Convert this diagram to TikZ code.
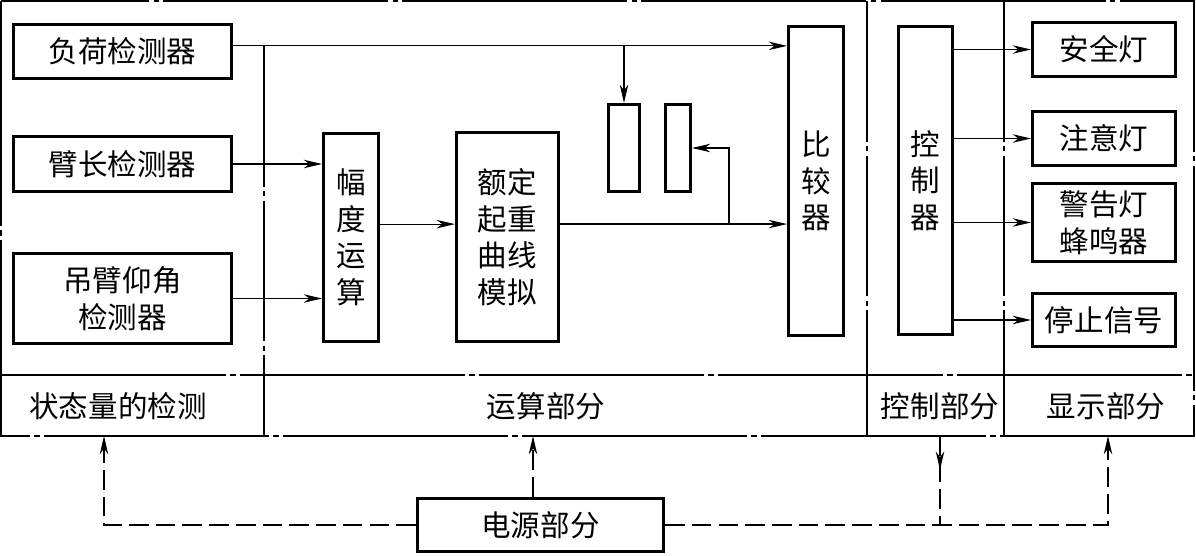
\documentclass[tikz,border=0pt]{standalone}
\usepackage{fontspec}
\setmainfont{Noto Sans CJK SC}
\usetikzlibrary{arrows.meta,decorations.markings}

\tikzset{
  blk/.style={draw, line width=2.2pt, align=center, inner sep=0pt},
  frameln/.style={line width=1.2pt, dash pattern=on 160pt off 3pt on 4pt off 3pt},
  divln/.style={line width=0.8pt, dash pattern=on 100pt off 3pt on 4pt off 3pt},
  tip/.style={-{Stealth[length=13pt,width=6pt,inset=4pt]}},
  sig/.style={line width=0.8pt, tip},
  pwr/.style={line width=0.9pt, dash pattern=on 14pt off 5pt},
  pwrarr/.style={pwr, tip},
  downmark/.style={postaction={decorate}, decoration={markings,
    mark=at position 0.38 with {\arrow{Stealth[length=13pt,width=6pt,inset=4pt]}}}},
}

\begin{document}
\begin{tikzpicture}[x=0.025cm, y=-0.025cm, font=\fontsize{21}{26}\selectfont]
    \useasboundingbox (0,0) rectangle (1196,556);

    % frame and dividers
    \draw[frameln] (1,1) rectangle (1194,436);
    \draw[frameln] (1,375) -- (1194,375);
    \draw[divln] (264,46) -- (264,375);
    \draw[line width=0.8pt] (264,375) -- (264,436);
    \draw[divln] (867,1) -- (867,375);
    \draw[line width=0.8pt] (867,375) -- (867,436);
    \draw[divln] (1004,1) -- (1004,375);
    \draw[line width=0.8pt] (1004,375) -- (1004,436);

    \node (lbldet) at (118,406) {状态量的检测};
    \node (lblcalc) at (546,406) {运算部分};
    \node (lblctrl) at (940,406) {控制部分};
    \node (lbldisp) at (1106,406) {显示部分};

    % detectors
    \node[blk, minimum width=5.45cm, minimum height=1.35cm] (load) at (122.5,51.5) {负荷检测器};
    \node[blk, minimum width=5.45cm, minimum height=1.37cm] (arm) at (122.5,164) {臂长检测器};
    \node[blk, minimum width=5.45cm, minimum height=2.25cm] (angle) at (122.5,298.5) {吊臂仰角\\检测器};

    % calculation
    \node[blk, minimum width=1.37cm, minimum height=5.2cm] (amp) at (351,237.5) {幅\\度\\运\\算};
    \node[blk, minimum width=2.55cm, minimum height=5.22cm] (curve) at (507.5,237) {额定\\起重\\曲线\\模拟};
    \node[blk, minimum width=0.78cm, minimum height=2.17cm] (bara) at (624,148) {};
    \node[blk, minimum width=0.62cm, minimum height=2.17cm] (barb) at (678,148) {};
    \node[blk, minimum width=1.37cm, minimum height=7.72cm] (cmp) at (816,181) {比\\较\\器};

    % control and display
    \node[blk, minimum width=1.35cm, minimum height=7.7cm] (ctrl) at (925.5,180.5) {控\\制\\器};
    \node[blk, minimum width=3.57cm, minimum height=1.35cm] (safe) at (1104,49.5) {安全灯};
    \node[blk, minimum width=3.57cm, minimum height=1.35cm] (note) at (1104,138.5) {注意灯};
    \node[blk, minimum width=3.57cm, minimum height=1.95cm] (warn) at (1104,222.5) {警告灯\\蜂鸣器};
    \node[blk, minimum width=3.57cm, minimum height=1.33cm] (stop) at (1104,320) {停止信号};

    \node[blk, minimum width=6.15cm, minimum height=1.33cm] (power) at (540.5,525) {电源部分};

    % signals
    \coordinate (loadout) at ([yshift=4pt]load.east);
    \draw[sig] (loadout) -- (loadout -| cmp.west);
    \coordinate (tap) at (loadout -| bara.north);
    \draw[sig] (tap) -- (bara.north);
    \draw[sig] (arm.east) -- (arm.east -| amp.west);
    \draw[sig] (angle.east) -- (angle.east -| amp.west);
    \coordinate (ampout) at ([yshift=9.5pt]amp.east);
    \draw[sig] (ampout) -- (ampout -| curve.west);
    \coordinate (curveout) at ([yshift=9.2pt]curve.east);
    \draw[sig] (curveout) -- (curveout -| cmp.west);
    \coordinate (fork) at (curveout -| 729,0);
    \draw[sig] (fork) |- (barb.east);
    \foreach \lamp in {safe,note,warn,stop}
        \draw[sig] (ctrl.east |- \lamp.west) -- (\lamp.west);

    % power supply
    \coordinate (pdet) at (104,436);
    \coordinate (pcalc) at (533,436);
    \coordinate (pctrl) at (940,436);
    \coordinate (pdisp) at (1108,436);
    \draw[pwrarr] (power.west) -| (pdet);
    \draw[pwrarr] (power.north -| pcalc) -- (pcalc);
    \draw[pwrarr] (power.east) -| (pdisp);
    \coordinate (pjoin) at (power.east -| pctrl);
    \draw[pwr, downmark] (pctrl) -- (pjoin);
\end{tikzpicture}
\end{document}
